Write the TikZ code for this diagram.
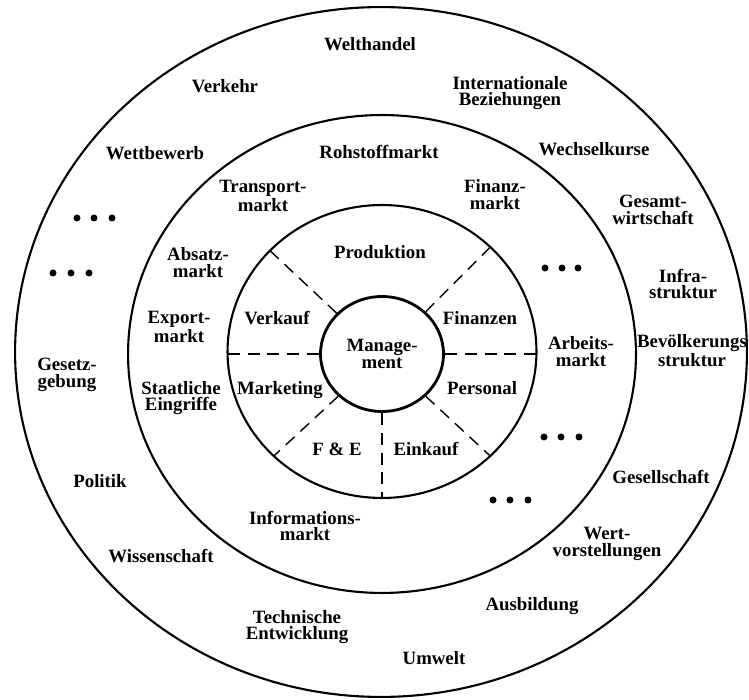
\documentclass[tikz,border=0pt]{standalone}
\usepackage{fontspec}
\setmainfont{Liberation Serif}
\usetikzlibrary{shapes.geometric}
\begin{document}
\begin{tikzpicture}[x=0.02cm,y=0.02cm,
  ring/.style={draw, ellipse, inner sep=0pt, line width=1.2pt},
  lbl/.style={font=\bfseries\fontsize{10.7pt}{9.6pt}\selectfont, align=center, inner sep=0pt},
  one/.style={lbl, text height=7pt, text depth=0pt},
  sep/.style={dash pattern=on 6.8pt off 4.5pt, line width=0.8pt},
  dot/.style={circle, fill, inner sep=0pt, minimum size=0.14cm}]
\useasboundingbox (0,0) rectangle (749,699);
% rings
\node[ring, minimum width=14.64cm, minimum height=13.8cm] (outer) at (381,347) {};
\node[ring, minimum width=10.16cm, minimum height=9.56cm] (middle) at (382,345) {};
\node[ring, minimum width=6.18cm, minimum height=5.86cm] (inner) at (382,347.5) {};
\node[ring, line width=1.6pt, minimum width=2.46cm, minimum height=2.3cm] (mgmt) at (382,345) {};
% dividers
\draw[sep] (mgmt.west) -- (mgmt.west -| inner.west);
\draw[sep] (mgmt.east) -- (mgmt.east -| inner.east);
\draw[sep] (mgmt.south) -- (mgmt.south |- inner.south);
\draw[sep] (mgmt.44) -- (inner.44);
\draw[sep] (mgmt.138) -- (inner.138);
\draw[sep] (mgmt.224) -- (inner.224);
\draw[sep] (mgmt.316) -- (inner.316);
% centre
\node[lbl] (management) at (382,345) {Manage-\\ment};
% inner ring
\node[one] (produktion) at (380,447) {Produktion};
\node[one] (verkauf) at (277,381) {Verkauf};
\node[one] (finanzen) at (480,381) {Finanzen};
\node[one] (marketing) at (280,311) {Marketing};
\node[one] (personal) at (482,311) {Personal};
\node[one] (fe) at (337,250) {F \& E};
\node[one] (einkauf) at (426,250) {Einkauf};
% middle ring
\node[one] (rohstoff) at (379,547) {Rohstoffmarkt};
\node[lbl] (transport) at (263,503) {Transport-\\markt};
\node[lbl] (finanzmarkt) at (495,504) {Finanz-\\markt};
\node[lbl] (absatz) at (198,436) {Absatz-\\markt};
\node[lbl] (export) at (179,372) {Export-\\markt};
\node[lbl] (staat) at (181,301) {Staatliche\\Eingriffe};
\node[lbl] (arbeit) at (581,347) {Arbeits-\\markt};
\node[lbl] (info) at (305,173) {Informations-\\markt};
\node[dot] (d3a) at (545,431) {};
\node[dot] (d3b) at (562,431) {};
\node[dot] (d3c) at (578,431) {};
\node[dot] (d4a) at (544,262) {};
\node[dot] (d4b) at (561,262) {};
\node[dot] (d4c) at (579,262) {};
\node[dot] (d5a) at (493,199) {};
\node[dot] (d5b) at (510,199) {};
\node[dot] (d5c) at (528,199) {};
% outer ring
\node[one] (welthandel) at (370,655) {Welthandel};
\node[one] (verkehr) at (225,613) {Verkehr};
\node[lbl] (intbez) at (510,606) {Internationale\\Beziehungen};
\node[one] (wettbewerb) at (155,546) {Wettbewerb};
\node[one] (wechsel) at (594,550) {Wechselkurse};
\node[lbl] (gesamt) at (653,489) {Gesamt-\\wirtschaft};
\node[lbl] (infra) at (683,415) {Infra-\\struktur};
\node[lbl] (bevoelk) at (692,348) {Bevölkerungs\\struktur};
\node[lbl] (gesetz) at (67,324) {Gesetz-\\gebung};
\node[one] (politik) at (100,218) {Politik};
\node[one] (wissen) at (161,143) {Wissenschaft};
\node[lbl] (technik) at (297,72) {Technische\\Entwicklung};
\node[one] (umwelt) at (434,41) {Umwelt};
\node[one] (ausbildung) at (532,95) {Ausbildung};
\node[lbl] (wert) at (607,155) {Wert-\\vorstellungen};
\node[one] (gesellschaft) at (661,222) {Gesellschaft};
\node[dot] (d1a) at (77,481) {};
\node[dot] (d1b) at (94,481) {};
\node[dot] (d1c) at (112,481) {};
\node[dot] (d2a) at (53,426) {};
\node[dot] (d2b) at (71,426) {};
\node[dot] (d2c) at (89,426) {};
\end{tikzpicture}
\end{document}
